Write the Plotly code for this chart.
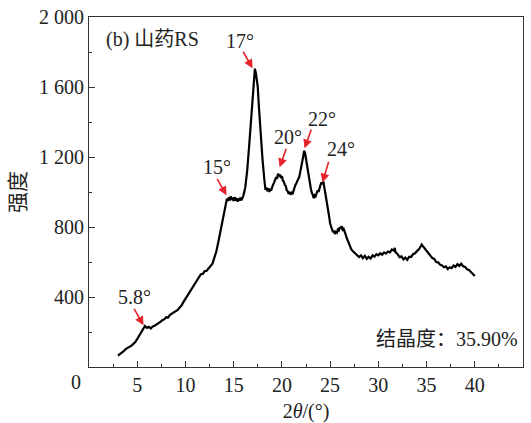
import plotly.graph_objects as go

# XRD pattern of yam resistant starch: (2θ in degrees, intensity)
pattern = [
    (3.0, 65), (3.2, 72), (3.4, 84), (3.6, 90), (3.8, 102), (4.0, 108), (4.2, 118),
    (4.4, 122), (4.6, 132), (4.8, 142), (5.0, 160), (5.2, 178), (5.4, 202), (5.6, 220),
    (5.8, 234), (6.0, 224), (6.2, 230), (6.4, 220), (6.6, 232), (6.8, 236), (7.0, 242),
    (7.2, 250), (7.4, 258), (7.6, 268), (7.8, 272), (8.0, 284), (8.2, 282), (8.4, 298),
    (8.6, 305), (8.8, 312), (9.0, 318), (9.2, 326), (9.4, 340), (9.6, 352), (9.8, 372),
    (10.0, 390), (10.2, 402), (10.4, 422), (10.6, 438), (10.8, 462), (11.0, 478),
    (11.2, 496), (11.4, 512), (11.6, 530), (11.8, 532), (12.0, 548), (12.2, 550),
    (12.4, 562), (12.6, 575), (12.8, 590), (13.0, 625), (13.2, 660), (13.4, 712),
    (13.6, 765), (13.8, 830), (14.0, 892), (14.2, 938), (14.3, 962), (14.4, 948),
    (14.5, 970), (14.6, 952), (14.7, 975), (14.8, 955), (14.9, 968), (15.0, 948),
    (15.1, 972), (15.2, 950), (15.3, 966), (15.4, 945), (15.5, 962), (15.6, 950),
    (15.7, 968), (15.8, 952), (15.9, 965), (16.0, 978), (16.2, 1025), (16.4, 1120),
    (16.6, 1260), (16.8, 1400), (17.0, 1580), (17.1, 1660), (17.2, 1705), (17.3, 1680),
    (17.4, 1650), (17.5, 1600), (17.6, 1500), (17.8, 1330), (18.0, 1180), (18.2, 1060),
    (18.3, 1012), (18.4, 1025), (18.5, 1005), (18.6, 1022), (18.7, 1000), (18.8, 1018),
    (18.9, 1008), (19.0, 1030), (19.1, 1040), (19.2, 1055), (19.3, 1070), (19.4, 1085),
    (19.5, 1075), (19.6, 1105), (19.7, 1090), (19.8, 1100), (19.9, 1080), (20.0, 1092),
    (20.1, 1065), (20.2, 1060), (20.3, 1040), (20.4, 1035), (20.5, 1010), (20.6, 1005),
    (20.7, 990), (20.8, 1000), (20.9, 985), (21.0, 995), (21.1, 988), (21.2, 1010),
    (21.3, 1020), (21.4, 1040), (21.5, 1050), (21.6, 1070), (21.7, 1075), (21.8, 1085),
    (21.9, 1110), (22.0, 1130), (22.1, 1170), (22.2, 1200), (22.3, 1235), (22.4, 1225),
    (22.5, 1190), (22.6, 1150), (22.7, 1115), (22.8, 1070), (22.9, 1040), (23.0, 1020),
    (23.1, 995), (23.2, 985), (23.3, 965), (23.4, 980), (23.5, 975), (23.6, 995),
    (23.7, 1010), (23.8, 1000), (23.9, 1030), (24.0, 1040), (24.1, 1055), (24.2, 1045),
    (24.3, 1060), (24.4, 1030), (24.5, 1000), (24.6, 960), (24.7, 930), (24.8, 890),
    (24.9, 860), (25.0, 820), (25.1, 800), (25.2, 785), (25.3, 770), (25.4, 780),
    (25.5, 760), (25.6, 772), (25.7, 768), (25.8, 785), (25.9, 780), (26.0, 800),
    (26.1, 790), (26.2, 805), (26.3, 785), (26.4, 790), (26.5, 765), (26.6, 760),
    (26.7, 740), (26.8, 725), (26.9, 705), (27.0, 695), (27.2, 672), (27.4, 660),
    (27.6, 648), (27.8, 640), (28.0, 628), (28.2, 638), (28.4, 622), (28.6, 635),
    (28.8, 618), (29.0, 630), (29.2, 620), (29.4, 638), (29.6, 630), (29.8, 645),
    (30.0, 638), (30.2, 650), (30.4, 642), (30.6, 655), (30.8, 648), (31.0, 660),
    (31.2, 655), (31.4, 672), (31.6, 665), (31.7, 680), (31.8, 655), (32.0, 645),
    (32.2, 628), (32.4, 632), (32.6, 615), (32.8, 625), (33.0, 612), (33.2, 630),
    (33.4, 628), (33.6, 645), (33.8, 650), (34.0, 662), (34.2, 672), (34.4, 690),
    (34.5, 700), (34.6, 692), (34.8, 678), (35.0, 665), (35.2, 650), (35.4, 640),
    (35.6, 622), (35.8, 618), (36.0, 600), (36.2, 598), (36.4, 585), (36.6, 580),
    (36.8, 570), (37.0, 575), (37.2, 560), (37.4, 570), (37.6, 565), (37.8, 580),
    (38.0, 572), (38.2, 588), (38.4, 578), (38.6, 590), (38.8, 575), (39.0, 572),
    (39.2, 558), (39.4, 555), (39.6, 542), (39.8, 532), (40.0, 520),
]
two_theta = [p[0] for p in pattern]
intensity = [p[1] for p in pattern]

# Peak labels with their arrows (tail -> tip, data coordinates)
peak_labels = ["5.8°", "15°", "17°", "20°", "22°", "24°"]
label_x = [4.75, 13.3, 15.7, 20.6, 24.2, 26.1]
label_y = [400, 1145, 1861, 1316, 1418, 1243]
tail_x = [4.6, 13.2, 15.9, 20.5, 23.1, 24.9]
tail_y = [341, 1084, 1810, 1255, 1365, 1181]
tip_x = [5.65, 14.26, 16.96, 19.76, 22.35, 24.2]
tip_y = [238, 981, 1707, 1141, 1250, 1055]

y_ticks = [400, 800, 1200, 1600, 2000]
y_tick_text = ["400", "800", "1 200", "1 600", "2 000"]
x_ticks = [5, 10, 15, 20, 25, 30, 35, 40, 45]

SERIF = "Liberation Serif"
FONT = "Liberation Serif, Noto Sans CJK SC, serif"
RED = "#e8222b"
INK = "#222"

fig = go.Figure()
fig.add_trace(go.Scatter(
    x=two_theta, y=intensity, mode="lines",
    line=dict(color="black", width=2.2),
    showlegend=False, hoverinfo="skip",
))

annotations = []
for txt, lx, ly, ax_, ay_, px, py in zip(peak_labels, label_x, label_y,
                                         tail_x, tail_y, tip_x, tip_y):
    annotations.append(dict(
        x=px, y=py, ax=ax_, ay=ay_, xref="x", yref="y", axref="x", ayref="y",
        text="", showarrow=True, arrowhead=2, arrowsize=1.1, arrowwidth=1.6,
        arrowcolor=RED, standoff=0,
    ))
    annotations.append(dict(
        x=lx, y=ly, xref="x", yref="y", text=txt, showarrow=False,
        font=dict(family=SERIF, size=20, color=INK),
        xanchor="center", yanchor="middle",
    ))

annotations += [
    dict(x=1.6, y=1873, xref="x", yref="y",
         text="<span style='font-family:Liberation Serif'>(b) </span>山药"
              "<span style='font-family:Liberation Serif'>RS</span>",
         showarrow=False, xanchor="left", yanchor="middle",
         font=dict(family=FONT, size=20, color=INK)),
    dict(x=44.7, y=161, xref="x", yref="y",
         text="结晶度：<span style='font-family:Liberation Serif'>35.90%</span>",
         showarrow=False, xanchor="right", yanchor="middle",
         font=dict(family=FONT, size=20, color=INK)),
    dict(x=0, y=0, xref="paper", yref="paper", text="0", showarrow=False,
         xanchor="center", yanchor="middle", xshift=-13.5, yshift=-14.5,
         font=dict(family=SERIF, size=20, color=INK)),
]

fig.update_layout(
    width=531, height=423,
    margin=dict(l=89, r=8, t=17, b=56),
    paper_bgcolor="white", plot_bgcolor="white",
    font=dict(family=FONT, size=20, color=INK),
    annotations=annotations,
    xaxis=dict(
        range=[0, 45], tickvals=x_ticks, ticks="inside", ticklen=6, tickwidth=1,
        tickcolor="#333", showline=True, linecolor="#333", linewidth=1, mirror=True,
        showgrid=False, zeroline=False, automargin=False,
        minor=dict(ticks="inside", ticklen=3, tickwidth=1, tickcolor="#333",
                   dtick=2.5, tick0=0, showgrid=False),
        tickfont=dict(family=SERIF, size=20, color=INK),
        title=dict(text="2<i>θ</i>/(°)", standoff=12,
                   font=dict(family=SERIF, size=20, color=INK)),
    ),
    yaxis=dict(
        range=[0, 2000], tickvals=y_ticks, ticktext=y_tick_text, ticks="inside",
        ticklen=6, tickwidth=1, tickcolor="#333", showline=True, linecolor="#333",
        linewidth=1, mirror=True, showgrid=False, zeroline=False, automargin=False,
        minor=dict(ticks="inside", ticklen=3, tickwidth=1, tickcolor="#333",
                   dtick=200, tick0=0, showgrid=False),
        tickfont=dict(family=SERIF, size=20, color=INK),
        title=dict(text="强度", standoff=7,
                   font=dict(family=FONT, size=21, color=INK)),
    ),
)

fig.write_html("out.html")
